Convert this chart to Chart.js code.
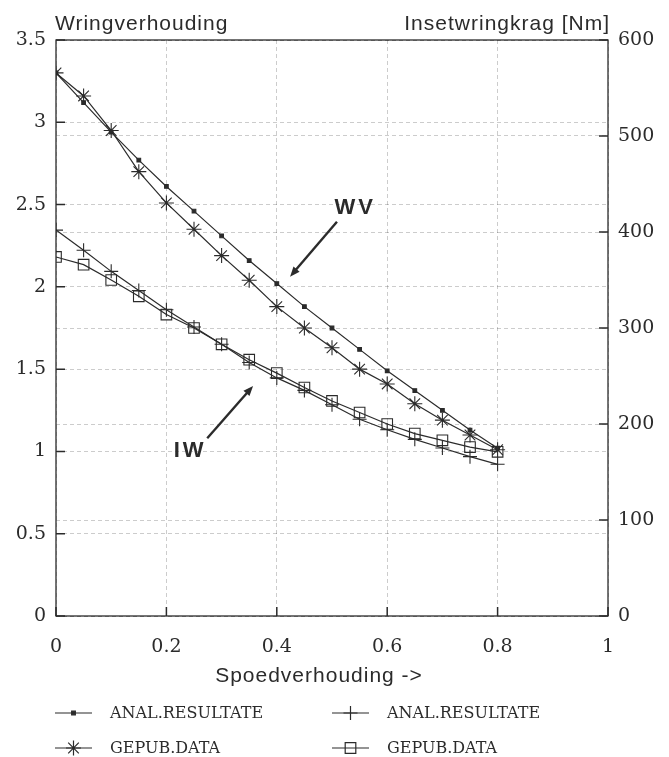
<!DOCTYPE html>
<html>
<head>
<meta charset="utf-8">
<script src="https://cdn.jsdelivr.net/npm/chart.js@4.4.1/dist/chart.umd.min.js"></script>
<style>
    body { margin: 0; background: #fff; }
    #wrap { width: 669px; height: 757px; }
</style>
</head>
<body>
<div id="wrap"><canvas id="chart" width="669" height="757"></canvas></div>
<script>
// spoedverhouding (x)
const speedRatio = [0, 0.05, 0.1, 0.15, 0.2, 0.25, 0.3, 0.35, 0.4, 0.45, 0.5, 0.55, 0.6, 0.65, 0.7, 0.75, 0.8];

// wringverhouding (left axis)
const wvAnal = [3.30, 3.12, 2.94, 2.77, 2.61, 2.46, 2.31, 2.16, 2.02, 1.88, 1.75, 1.62, 1.49, 1.37, 1.25, 1.13, 1.02];
const wvGepub = [3.30, 3.16, 2.95, 2.70, 2.51, 2.35, 2.19, 2.04, 1.88, 1.75, 1.63, 1.50, 1.41, 1.29, 1.19, 1.10, 1.01];

// insetwringkrag [Nm] (right axis)
const iwAnal = [402, 381, 359, 339, 319, 301, 283, 264, 248, 235, 220, 205, 194, 184, 175, 166, 158];
const iwGepub = [374, 366, 350, 333, 314, 300, 283, 267, 253, 238, 224, 212, 200, 190, 183, 176, 171];

const legendLabels = ['ANAL.RESULTATE', 'ANAL.RESULTATE', 'GEPUB.DATA', 'GEPUB.DATA'];

// annotation anchors in data units (x, left y)
const wvLabel = { text: 'WV', x: 0.542, y: 2.48, tail: [0.509, 2.396], tip: [0.424, 2.062] };
const iwLabel = { text: 'IW', x: 0.243, y: 1.0, tail: [0.274, 1.08], tip: [0.357, 1.398] };

const ink = '#2b2b2b';
const gridCol = 'rgba(0,0,0,0.2)';
const tickFont = { family: 'DejaVu Serif', size: 19 };
const plainNum = v => String(Math.round(v * 100) / 100);

function pts(vals) {
    return vals.map((v, i) => ({ x: speedRatio[i], y: v }));
}

const datasets = [
    { label: legendLabels[0], data: pts(wvAnal), yAxisID: 'y', pointStyle: 'rect', pointRadius: 2.6, backgroundColor: ink },
    { label: legendLabels[1], data: pts(iwAnal), yAxisID: 'y2', pointStyle: 'cross', pointRadius: 7, backgroundColor: 'transparent' },
    { label: legendLabels[2], data: pts(wvGepub), yAxisID: 'y', pointStyle: 'star', pointRadius: 7.5, backgroundColor: 'transparent' },
    { label: legendLabels[3], data: pts(iwGepub), yAxisID: 'y2', pointStyle: 'rect', pointRadius: 7.5, backgroundColor: 'transparent' }
];
datasets.forEach(d => {
    d.borderColor = ink;
    d.borderWidth = 1.2;
    d.pointBorderColor = ink;
    d.pointBorderWidth = 1.1;
    d.tension = 0;
    d.fill = false;
});

function drawMarker(ctx, style, radius, fill, x, y) {
    if (Chart.helpers && Chart.helpers.drawPoint) {
        Chart.helpers.drawPoint(ctx, { pointStyle: style, radius: radius, borderWidth: 1.1, rotation: 0 }, x, y);
        return;
    }
    ctx.beginPath();
    ctx.rect(x - radius * 0.7, y - radius * 0.7, radius * 1.4, radius * 1.4);
    if (fill) ctx.fill();
    ctx.stroke();
}

function arrow(ctx, x1, y1, x2, y2) {
    const a = Math.atan2(y2 - y1, x2 - x1);
    ctx.beginPath();
    ctx.moveTo(x1, y1);
    ctx.lineTo(x2 - 6 * Math.cos(a), y2 - 6 * Math.sin(a));
    ctx.lineWidth = 2.4;
    ctx.stroke();
    ctx.beginPath();
    ctx.moveTo(x2, y2);
    ctx.lineTo(x2 - 10 * Math.cos(a) + 4 * Math.sin(a), y2 - 10 * Math.sin(a) - 4 * Math.cos(a));
    ctx.lineTo(x2 - 10 * Math.cos(a) - 4 * Math.sin(a), y2 - 10 * Math.sin(a) + 4 * Math.cos(a));
    ctx.closePath();
    ctx.fill();
}

const decorations = {
    id: 'decorations',
    afterDraw(chart) {
        const ctx = chart.ctx;
        const area = chart.chartArea;
        const sx = chart.scales.x, sy = chart.scales.y, sy2 = chart.scales.y2;
        ctx.save();
        ctx.strokeStyle = ink;
        ctx.fillStyle = ink;

        // frame
        ctx.lineWidth = 1.3;
        ctx.strokeRect(area.left, area.top, area.right - area.left, area.bottom - area.top);

        // inward ticks
        ctx.lineWidth = 1.5;
        ctx.beginPath();
        sy.ticks.forEach(t => {
            const p = sy.getPixelForValue(t.value);
            ctx.moveTo(area.left, p); ctx.lineTo(area.left + 9, p);
        });
        sy2.ticks.forEach(t => {
            const p = sy2.getPixelForValue(t.value);
            ctx.moveTo(area.right, p); ctx.lineTo(area.right - 9, p);
        });
        sx.ticks.forEach(t => {
            const p = sx.getPixelForValue(t.value);
            ctx.moveTo(p, area.bottom); ctx.lineTo(p, area.bottom - 9);
        });
        ctx.stroke();

        // axis titles
        ctx.font = '21px "Liberation Sans"';
        ctx.letterSpacing = '1px';
        ctx.textBaseline = 'alphabetic';
        ctx.textAlign = 'left';
        ctx.fillText('Wringverhouding', 55, 30);
        ctx.textAlign = 'right';
        ctx.fillText('Insetwringkrag [Nm]', 610, 30);
        ctx.textAlign = 'center';
        ctx.fillText('Spoedverhouding ->', 319, 682);

        // WV / IW labels with arrows
        ctx.font = 'bold 22px "Liberation Sans"';
        ctx.letterSpacing = '3px';
        ctx.textBaseline = 'middle';
        [wvLabel, iwLabel].forEach(l => {
            ctx.fillText(l.text, sx.getPixelForValue(l.x), sy.getPixelForValue(l.y));
            arrow(ctx, sx.getPixelForValue(l.tail[0]), sy.getPixelForValue(l.tail[1]),
                sx.getPixelForValue(l.tip[0]), sy.getPixelForValue(l.tip[1]));
        });

        // legend
        ctx.letterSpacing = '0px';
        ctx.font = '16px "DejaVu Serif"';
        ctx.textAlign = 'left';
        const spots = [[55, 713], [332, 713], [55, 748], [332, 748]];
        chart.data.datasets.forEach((d, i) => {
            const [lx, ly] = spots[i];
            ctx.lineWidth = 1.2;
            ctx.beginPath();
            ctx.moveTo(lx, ly); ctx.lineTo(lx + 37, ly);
            ctx.stroke();
            ctx.fillStyle = d.backgroundColor === 'transparent' ? 'rgba(0,0,0,0)' : ink;
            drawMarker(ctx, d.pointStyle, d.pointRadius, d.backgroundColor !== 'transparent', lx + 18.5, ly);
            ctx.fillStyle = ink;
            ctx.fillText(d.label, lx + 55, ly + 1);
        });
        ctx.restore();
    }
};

new Chart(document.getElementById('chart'), {
    type: 'line',
    data: { datasets: datasets },
    options: {
        responsive: false,
        animation: false,
        layout: { padding: { top: 40, left: 0, right: 0, bottom: 0 } },
        plugins: {
            legend: { display: false },
            tooltip: { enabled: false }
        },
        scales: {
            x: {
                type: 'linear',
                min: 0,
                max: 1,
                ticks: { stepSize: 0.2, color: ink, font: tickFont, padding: 20, maxRotation: 0, callback: plainNum },
                grid: { color: gridCol, drawTicks: false, lineWidth: 1 },
                border: { display: false, dash: [4, 3] },
                afterFit: s => { s.height = 141; }
            },
            y: {
                position: 'left',
                min: 0,
                max: 3.5,
                ticks: { stepSize: 0.5, color: ink, font: tickFont, padding: 10, callback: plainNum },
                grid: { color: gridCol, drawTicks: false, lineWidth: 1 },
                border: { display: false, dash: [4, 3] },
                afterFit: s => { s.width = 56; }
            },
            y2: {
                position: 'right',
                min: 0,
                max: 600,
                ticks: { stepSize: 100, color: ink, font: tickFont, padding: 10, callback: plainNum },
                grid: { color: gridCol, drawTicks: false, lineWidth: 1 },
                border: { display: false, dash: [4, 3] },
                afterFit: s => { s.width = 61; }
            }
        }
    },
    plugins: [decorations]
});
</script>
</body>
</html>
